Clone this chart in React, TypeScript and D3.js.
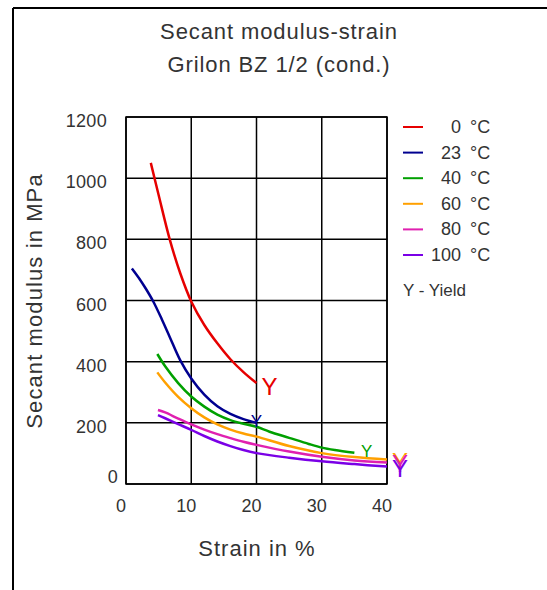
import React from "react";
import * as d3 from "d3";

const titleLines = ["Secant modulus-strain", "Grilon BZ 1/2 (cond.)"];
const xLabel = "Strain in %";
const yLabel = "Secant modulus in MPa";
const xTicks = [0, 10, 20, 30, 40];
const yTicks = [0, 200, 400, 600, 800, 1000, 1200];

const seriesNames = ["0", "23", "40", "60", "80", "100"];
const seriesColors = ["#e60000", "#000090", "#00a000", "#ffa000", "#e020b0", "#7a00e6"];

const s0: [number, number][] = [[3.8, 1050], [5, 945], [6.7, 800], [8.3, 690], [10, 597], [12, 520], [14, 460], [16, 408], [18, 366], [20, 330]];
const s23: [number, number][] = [[0.9, 705], [2, 673], [3, 640], [4.2, 596], [5.5, 538], [6.7, 481], [8.3, 405], [10, 345], [12, 292], [14, 254], [16, 229], [18, 212], [20, 200]];
const s40: [number, number][] = [[4.8, 425], [6, 385], [8, 330], [10, 286], [12, 253], [14, 227], [16, 209], [18, 197], [20, 187], [22, 171], [25, 151], [28, 131], [30, 119], [32, 111], [35, 102]];
const s60: [number, number][] = [[4.8, 365], [6, 332], [8, 285], [10, 248], [12, 218], [14, 195], [16, 178], [18, 165], [20, 155], [25, 124], [30, 101], [35, 88], [40, 80]];
const s80: [number, number][] = [[4.9, 242], [6, 234], [8, 214], [10, 195], [12, 178], [14, 163], [16, 150], [18, 138], [20, 128], [25, 106], [30, 89], [35, 77], [40, 70]];
const s100: [number, number][] = [[4.9, 225], [6, 215], [8, 196], [10, 177], [12, 157], [14, 139], [16, 124], [18, 111], [20, 101], [25, 86], [30, 74], [35, 65], [40, 57]];
const seriesData = [s0, s23, s40, s60, s80, s100];

// yield markers: [strain, modulus (baseline), font size]
const yieldMarks: [number, number, number][] = [[22, 291, 24], [20, 186, 17], [36.9, 88, 17], [42, 46, 24], [42, 38, 24], [42, 23, 24]];
const yieldText = "Y";
const yieldLegend = "Y - Yield";

const font = "'Liberation Sans', Arial, sans-serif";
const ink = "#333";

export default function App() {
  const x = d3.scaleLinear().domain([0, 40]).range([126, 387]);
  const y = d3.scaleLinear().domain([0, 1200]).range([484, 117]);
  const line = d3.line<[number, number]>().x(d => x(d[0])).y(d => y(d[1])).curve(d3.curveCatmullRom.alpha(0.5));

  return (
    <svg width={547} height={590} style={{ position: "absolute", left: 0, top: 0, background: "#fff" }} fontFamily={font}>
      <rect x={0} y={0} width={547} height={590} fill="#fff" />
      <line x1={13} y1={8} x2={547} y2={8} stroke="#000" strokeWidth={2} />
      <line x1={13} y1={8} x2={13} y2={590} stroke="#000" strokeWidth={2} />

      {titleLines.map((t, i) => (
        <text key={t} x={279} y={39 + i * 33} textAnchor="middle" fontSize={22} fill={ink} letterSpacing={0.9}>{t}</text>
      ))}

      {/* grid */}
      {xTicks.map(t => (
        <line key={"gx" + t} x1={x(t)} x2={x(t)} y1={y(1200)} y2={y(0)} stroke="#000" strokeWidth={1.5} />
      ))}
      {yTicks.map(t => (
        <line key={"gy" + t} x1={x(0)} x2={x(40)} y1={y(t)} y2={y(t)} stroke="#000" strokeWidth={1.5} />
      ))}
      <rect x={x(0)} y={y(1200)} width={x(40) - x(0)} height={y(0) - y(1200)} fill="none" stroke="#000" strokeWidth={1.5} />

      {xTicks.map(t => (
        <text key={"tx" + t} x={x(t) - 5} y={512} textAnchor="middle" fontSize={18} fill={ink}>{t}</text>
      ))}
      {yTicks.map(t => (
        <text key={"ty" + t} x={t === 0 ? 118 : 107} y={y(t) + (t === 0 ? -1 : 10)} textAnchor="end" fontSize={18} fill={ink} letterSpacing={0.3}>{t}</text>
      ))}

      <text x={257} y={556} textAnchor="middle" fontSize={22} fill={ink} letterSpacing={1}>{xLabel}</text>
      <text transform="translate(42,301) rotate(-90)" textAnchor="middle" fontSize={22} fill={ink} letterSpacing={1.1}>{yLabel}</text>

      {seriesData.map((d, i) => (
        <path key={"s" + i} d={line(d) || ""} fill="none" stroke={seriesColors[i]} strokeWidth={2.5} />
      ))}

      {yieldMarks.map((m, i) => (
        <text key={"ym" + i} x={x(m[0])} y={y(m[1])} textAnchor="middle" fontSize={m[2]} fill={seriesColors[i]} fontWeight={300}>{yieldText}</text>
      ))}

      {seriesNames.map((n, i) => (
        <g key={"lg" + n}>
          <line x1={403} x2={423} y1={127 + i * 25.6} y2={127 + i * 25.6} stroke={seriesColors[i]} strokeWidth={2} />
          <text x={461} y={127 + i * 25.6 + 6} textAnchor="end" fontSize={18} fill={ink}>{n}</text>
          <text x={470} y={127 + i * 25.6 + 6} fontSize={18} fill={ink}>°C</text>
        </g>
      ))}
      <text x={403} y={296} fontSize={17} fill={ink}>{yieldLegend}</text>
    </svg>
  );
}
